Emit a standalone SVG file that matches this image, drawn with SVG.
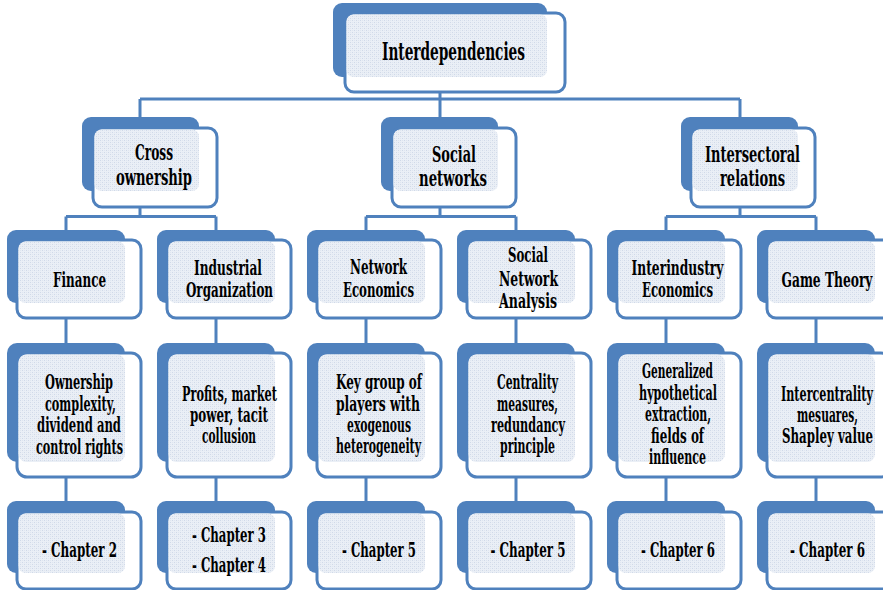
<svg xmlns="http://www.w3.org/2000/svg" width="883" height="590" viewBox="0 0 883 590">
<defs>
<pattern id="tex" width="4" height="4" patternUnits="userSpaceOnUse">
<rect width="4" height="4" fill="#eaeff6"/>
<rect x="0" y="0" width="1" height="1" fill="#d0d9e8"/>
<rect x="2" y="2" width="1" height="1" fill="#d0d9e8"/>
<rect x="2" y="0" width="1" height="1" fill="#dfe5ef"/>
<rect x="0" y="2" width="1" height="1" fill="#dfe5ef"/>
</pattern>
</defs>
<style>
.back{fill:#4f81bd}
.front{fill:#ffffff;stroke:#4f81bd;stroke-width:3}
.tex{fill:url(#tex)}
.conn{stroke:#4f81bd;stroke-width:3;fill:none}
text{font-family:"DejaVu Serif Condensed","DejaVu Serif",serif;font-weight:bold;fill:#000;text-anchor:middle;font-size:20px}
.t0{font-size:25px}
.t1{font-size:23px}
</style>
<rect width="883" height="590" fill="#ffffff"/>
<g id="connectors">
<path class="conn" d="M440,92V99M140,99H740M140,99V117M440,99V117M740,99V117"/>
<path class="conn" d="M140,207V216.5M66,216.5H216M66,216.5V230M216,216.5V230"/>
<path class="conn" d="M440,207V216.5M366,216.5H516M366,216.5V230M516,216.5V230"/>
<path class="conn" d="M740,207V216.5M666,216.5H816M666,216.5V230M816,216.5V230"/>
<path class="conn" d="M66,318V343M216,318V343M366,318V343M516,318V343M666,318V343M816,318V343"/>
<path class="conn" d="M66,477V501M216,477V501M366,477V501M516,477V501M666,477V501M816,477V501"/>
</g>
<g id="n-interdependencies">
<rect class="back" x="333" y="3" width="214" height="74" rx="9"/>
<rect class="front" x="345" y="13" width="220" height="79" rx="9"/>
<rect class="tex" x="346.5" y="14.5" width="200.5" height="62.5" rx="7"/>
<text class="t0" x="453.5" y="60" textLength="143" lengthAdjust="spacingAndGlyphs">Interdependencies</text>
</g>
<g id="n-cross-ownership">
<rect class="back" x="82" y="117" width="117" height="74" rx="9"/>
<rect class="front" x="93" y="128" width="124" height="79" rx="9"/>
<rect class="tex" x="94.5" y="129.5" width="104.5" height="61.5" rx="7"/>
<text class="t1" x="154" y="160" textLength="38" lengthAdjust="spacingAndGlyphs">Cross</text>
<text class="t1" x="154" y="185" textLength="76" lengthAdjust="spacingAndGlyphs">ownership</text>
</g>
<g id="n-social-networks">
<rect class="back" x="381" y="117" width="117" height="74" rx="9"/>
<rect class="front" x="392" y="128" width="124" height="79" rx="9"/>
<rect class="tex" x="393.5" y="129.5" width="104.5" height="61.5" rx="7"/>
<text class="t1" x="454" y="161.5" textLength="44" lengthAdjust="spacingAndGlyphs">Social</text>
<text class="t1" x="453" y="186" textLength="68" lengthAdjust="spacingAndGlyphs">networks</text>
</g>
<g id="n-intersectoral">
<rect class="back" x="681" y="117" width="117" height="74" rx="9"/>
<rect class="front" x="691" y="128" width="124" height="79" rx="9"/>
<rect class="tex" x="692.5" y="129.5" width="105.5" height="61.5" rx="7"/>
<text class="t1" x="752.5" y="161.5" textLength="95" lengthAdjust="spacingAndGlyphs">Intersectoral</text>
<text class="t1" x="752.5" y="186" textLength="65" lengthAdjust="spacingAndGlyphs">relations</text>
</g>
<g id="n-finance">
<rect class="back" x="7" y="230" width="118" height="73" rx="9"/>
<rect class="front" x="17" y="240" width="124" height="78" rx="9"/>
<rect class="tex" x="18.5" y="241.5" width="106.5" height="61.5" rx="7"/>
<text x="79.5" y="287" textLength="53" lengthAdjust="spacingAndGlyphs">Finance</text>
</g>
<g id="n-industrial-organization">
<rect class="back" x="157" y="230" width="118" height="73" rx="9"/>
<rect class="front" x="167" y="240" width="124" height="78" rx="9"/>
<rect class="tex" x="168.5" y="241.5" width="106.5" height="61.5" rx="7"/>
<text x="228" y="275" textLength="68" lengthAdjust="spacingAndGlyphs">Industrial</text>
<text x="229.5" y="297" textLength="87" lengthAdjust="spacingAndGlyphs">Organization</text>
</g>
<g id="n-network-economics">
<rect class="back" x="307" y="230" width="118" height="73" rx="9"/>
<rect class="front" x="317" y="240" width="124" height="78" rx="9"/>
<rect class="tex" x="318.5" y="241.5" width="106.5" height="61.5" rx="7"/>
<text x="378.5" y="274" textLength="57" lengthAdjust="spacingAndGlyphs">Network</text>
<text x="378.5" y="297" textLength="71" lengthAdjust="spacingAndGlyphs">Economics</text>
</g>
<g id="n-social-network-analysis">
<rect class="back" x="457" y="230" width="118" height="73" rx="9"/>
<rect class="front" x="467" y="240" width="124" height="78" rx="9"/>
<rect class="tex" x="468.5" y="241.5" width="106.5" height="61.5" rx="7"/>
<text x="528" y="262" textLength="40" lengthAdjust="spacingAndGlyphs">Social</text>
<text x="528.5" y="286" textLength="59" lengthAdjust="spacingAndGlyphs">Network</text>
<text x="528" y="308" textLength="58" lengthAdjust="spacingAndGlyphs">Analysis</text>
</g>
<g id="n-interindustry-economics">
<rect class="back" x="607" y="230" width="118" height="73" rx="9"/>
<rect class="front" x="617" y="240" width="124" height="78" rx="9"/>
<rect class="tex" x="618.5" y="241.5" width="106.5" height="61.5" rx="7"/>
<text x="677.5" y="275" textLength="92" lengthAdjust="spacingAndGlyphs">Interindustry</text>
<text x="677.5" y="297" textLength="71" lengthAdjust="spacingAndGlyphs">Economics</text>
</g>
<g id="n-game-theory">
<rect class="back" x="757" y="230" width="118" height="73" rx="9"/>
<rect class="front" x="767" y="240" width="124" height="78" rx="9"/>
<rect class="tex" x="768.5" y="241.5" width="106.5" height="61.5" rx="7"/>
<text x="827" y="287" textLength="91" lengthAdjust="spacingAndGlyphs">Game Theory</text>
</g>
<g id="n-ownership-complexity">
<rect class="back" x="7" y="343" width="118" height="119" rx="10"/>
<rect class="front" x="17" y="353" width="124" height="124" rx="10"/>
<rect class="tex" x="18.5" y="354.5" width="106.5" height="107.5" rx="8"/>
<text x="79" y="389" textLength="68" lengthAdjust="spacingAndGlyphs">Ownership</text>
<text x="80.5" y="410.5" textLength="71" lengthAdjust="spacingAndGlyphs">complexity,</text>
<text x="79" y="432" textLength="84" lengthAdjust="spacingAndGlyphs">dividend and</text>
<text x="79.5" y="453.5" textLength="87" lengthAdjust="spacingAndGlyphs">control rights</text>
</g>
<g id="n-profits">
<rect class="back" x="157" y="343" width="118" height="119" rx="10"/>
<rect class="front" x="167" y="353" width="124" height="124" rx="10"/>
<rect class="tex" x="168.5" y="354.5" width="106.5" height="107.5" rx="8"/>
<text x="229.5" y="401" textLength="95" lengthAdjust="spacingAndGlyphs">Profits, market</text>
<text x="229" y="422" textLength="78" lengthAdjust="spacingAndGlyphs">power, tacit</text>
<text x="229" y="443" textLength="54" lengthAdjust="spacingAndGlyphs">collusion</text>
</g>
<g id="n-key-group">
<rect class="back" x="307" y="343" width="118" height="119" rx="10"/>
<rect class="front" x="317" y="353" width="124" height="124" rx="10"/>
<rect class="tex" x="318.5" y="354.5" width="106.5" height="107.5" rx="8"/>
<text x="379" y="389" textLength="86" lengthAdjust="spacingAndGlyphs">Key group of</text>
<text x="378" y="411" textLength="84" lengthAdjust="spacingAndGlyphs">players with</text>
<text x="379" y="432" textLength="64" lengthAdjust="spacingAndGlyphs">exogenous</text>
<text x="378.5" y="453" textLength="85" lengthAdjust="spacingAndGlyphs">heterogeneity</text>
</g>
<g id="n-centrality">
<rect class="back" x="457" y="343" width="118" height="119" rx="10"/>
<rect class="front" x="467" y="353" width="124" height="124" rx="10"/>
<rect class="tex" x="468.5" y="354.5" width="106.5" height="107.5" rx="8"/>
<text x="527.5" y="389" textLength="61" lengthAdjust="spacingAndGlyphs">Centrality</text>
<text x="527.5" y="411" textLength="61" lengthAdjust="spacingAndGlyphs">measures,</text>
<text x="528" y="432" textLength="74" lengthAdjust="spacingAndGlyphs">redundancy</text>
<text x="527.5" y="453" textLength="55" lengthAdjust="spacingAndGlyphs">principle</text>
</g>
<g id="n-generalized">
<rect class="back" x="607" y="343" width="118" height="119" rx="10"/>
<rect class="front" x="617" y="353" width="124" height="124" rx="10"/>
<rect class="tex" x="618.5" y="354.5" width="106.5" height="107.5" rx="8"/>
<text x="677.5" y="378" textLength="71" lengthAdjust="spacingAndGlyphs">Generalized</text>
<text x="678" y="399.5" textLength="78" lengthAdjust="spacingAndGlyphs">hypothetical</text>
<text x="678" y="421" textLength="66" lengthAdjust="spacingAndGlyphs">extraction,</text>
<text x="677.5" y="442.5" textLength="53" lengthAdjust="spacingAndGlyphs">fields of</text>
<text x="677.5" y="464" textLength="57" lengthAdjust="spacingAndGlyphs">influence</text>
</g>
<g id="n-intercentrality">
<rect class="back" x="757" y="343" width="118" height="119" rx="10"/>
<rect class="front" x="767" y="353" width="124" height="124" rx="10"/>
<rect class="tex" x="768.5" y="354.5" width="106.5" height="107.5" rx="8"/>
<text x="827" y="401" textLength="92" lengthAdjust="spacingAndGlyphs">Intercentrality</text>
<text x="827.5" y="422" textLength="61" lengthAdjust="spacingAndGlyphs">mesuares,</text>
<text x="827.5" y="443" textLength="91" lengthAdjust="spacingAndGlyphs">Shapley value</text>
</g>
<g id="n-ch2">
<rect class="back" x="7" y="501" width="118" height="72" rx="9"/>
<rect class="front" x="17" y="512" width="124" height="77" rx="9"/>
<rect class="tex" x="18.5" y="513.5" width="106.5" height="59.5" rx="7"/>
<text x="79.5" y="556.5" textLength="75" lengthAdjust="spacingAndGlyphs">- Chapter 2</text>
</g>
<g id="n-ch3-4">
<rect class="back" x="157" y="501" width="118" height="72" rx="9"/>
<rect class="front" x="167" y="512" width="124" height="77" rx="9"/>
<rect class="tex" x="168.5" y="513.5" width="106.5" height="59.5" rx="7"/>
<text x="229" y="542" textLength="74" lengthAdjust="spacingAndGlyphs">- Chapter 3</text>
<text x="229" y="571.5" textLength="74" lengthAdjust="spacingAndGlyphs">- Chapter 4</text>
</g>
<g id="n-ch5a">
<rect class="back" x="307" y="501" width="118" height="72" rx="9"/>
<rect class="front" x="317" y="512" width="124" height="77" rx="9"/>
<rect class="tex" x="318.5" y="513.5" width="106.5" height="59.5" rx="7"/>
<text x="379" y="556.5" textLength="74" lengthAdjust="spacingAndGlyphs">- Chapter 5</text>
</g>
<g id="n-ch5b">
<rect class="back" x="457" y="501" width="118" height="72" rx="9"/>
<rect class="front" x="467" y="512" width="124" height="77" rx="9"/>
<rect class="tex" x="468.5" y="513.5" width="106.5" height="59.5" rx="7"/>
<text x="528" y="556.5" textLength="75" lengthAdjust="spacingAndGlyphs">- Chapter 5</text>
</g>
<g id="n-ch6a">
<rect class="back" x="607" y="501" width="118" height="72" rx="9"/>
<rect class="front" x="617" y="512" width="124" height="77" rx="9"/>
<rect class="tex" x="618.5" y="513.5" width="106.5" height="59.5" rx="7"/>
<text x="678" y="556.5" textLength="74" lengthAdjust="spacingAndGlyphs">- Chapter 6</text>
</g>
<g id="n-ch6b">
<rect class="back" x="757" y="501" width="118" height="72" rx="9"/>
<rect class="front" x="767" y="512" width="124" height="77" rx="9"/>
<rect class="tex" x="768.5" y="513.5" width="106.5" height="59.5" rx="7"/>
<text x="827.5" y="556.5" textLength="75" lengthAdjust="spacingAndGlyphs">- Chapter 6</text>
</g>
</svg>
